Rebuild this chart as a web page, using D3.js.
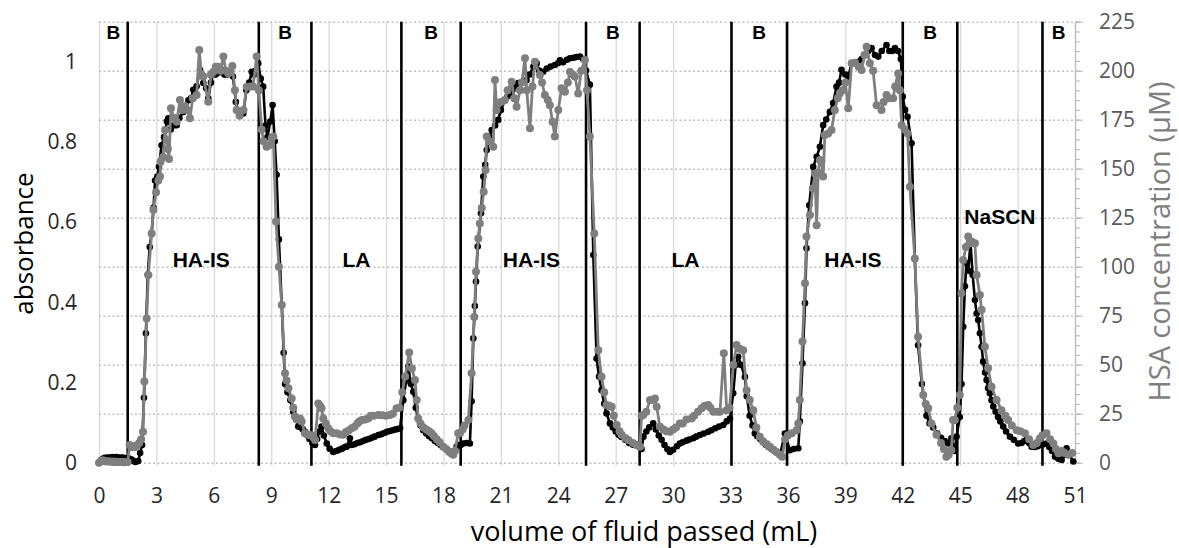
<!DOCTYPE html>
<html>
<head>
<meta charset="utf-8">
<script src="https://cdn.jsdelivr.net/npm/d3@7"></script>
<style>
  body { margin: 0; background: #fff; }
  text { font-family: "Open Sans", "Noto Sans", sans-serif; }
</style>
</head>
<body>
<svg width="1179" height="548"></svg>
<script>
// ---- data ----
const volumeTicks = d3.range(0, 52, 3);
const absorbanceTicks = [0, 0.2, 0.4, 0.6, 0.8, 1];
const concTicks = d3.range(0, 226, 25);
const concMinorTicks = d3.range(0, 226, 5);

// phase boundaries (mL) and the names of the phases between them
const boundaries = [1.5, 8.35, 11.1, 15.8, 18.9, 25.45, 28.25, 33.05, 35.95, 42.0, 44.85, 49.3];
const phases = ['B', 'HA-IS', 'B', 'LA', 'B', 'HA-IS', 'B', 'LA', 'B', 'HA-IS', 'B', 'NaSCN', 'B'];

// absorbance (left axis) [volume mL, absorbance]
const absorbance = [
  [0,0],[0.1,0.006],[0.2,0.01],[0.3,0.012],[0.4,0.012],[0.5,0.013],[0.6,0.012],[0.7,0.014],[0.8,0.013],
  [0.9,0.014],[1.0,0.013],[1.1,0.012],[1.2,0.013],[1.3,0.012],[1.4,0.011],[1.5,0.012],[1.6,0.01],
  [1.7,0.008],[1.8,0.004],[1.9,0.002],[2.05,0.004],[2.15,0.024],[2.25,0.044],[2.35,0.162],[2.45,0.323],
  [2.55,0.469],[2.65,0.538],[2.75,0.572],[2.85,0.636],[2.93,0.704],[3.05,0.714],[3.13,0.738],[3.27,0.792],
  [3.4,0.812],[3.55,0.851],[3.62,0.859],[3.75,0.831],[3.9,0.841],[4.06,0.842],[4.2,0.86],[4.41,0.875],
  [4.55,0.88],[4.67,0.904],[4.8,0.909],[4.93,0.93],[5.1,0.939],[5.28,0.98],[5.45,0.947],[5.6,0.934],
  [5.71,0.909],[5.85,0.948],[5.97,0.971],[6.1,0.968],[6.25,0.973],[6.41,0.98],[6.55,0.968],[6.7,0.968],
  [6.84,0.971],[7.0,0.963],[7.15,0.9],[7.28,0.875],[7.4,0.87],[7.54,0.871],[7.7,0.929],[7.85,0.948],
  [7.98,0.975],[8.1,0.968],[8.2,0.978],[8.32,0.996],[8.45,0.958],[8.58,0.938],[8.7,0.841],[8.8,0.812],
  [8.95,0.851],[9.07,0.892],[9.18,0.802],[9.28,0.718],[9.4,0.557],[9.55,0.393],[9.65,0.274],[9.72,0.196],
  [9.85,0.176],[10.0,0.156],[10.15,0.127],[10.3,0.108],[10.41,0.09],[10.55,0.088],[10.65,0.083],[10.77,0.077],
  [10.9,0.068],[11.0,0.059],[11.15,0.049],[11.29,0.044],[11.4,0.059],[11.5,0.078],[11.63,0.09],[11.75,0.068],
  [11.9,0.048],[12.05,0.035],[12.24,0.027],[12.4,0.029],[12.55,0.032],[12.7,0.035],[12.85,0.039],[12.94,0.04],
  [13.11,0.061],[13.2,0.044],[13.35,0.046],[13.5,0.049],[13.65,0.051],[13.8,0.054],[13.95,0.057],[14.1,0.059],
  [14.25,0.062],[14.4,0.065],[14.6,0.069],[14.75,0.071],[14.9,0.074],[15.05,0.077],[15.2,0.079],[15.35,0.081],
  [15.5,0.083],[15.6,0.084],[15.73,0.086],[15.9,0.156],[16.05,0.205],[16.16,0.24],[16.3,0.196],[16.42,0.177],
  [16.55,0.137],[16.68,0.11],[16.8,0.093],[16.94,0.081],[17.1,0.073],[17.25,0.066],[17.4,0.061],[17.55,0.054],
  [17.7,0.049],[17.85,0.044],[18.0,0.039],[18.15,0.034],[18.3,0.029],[18.45,0.024],[18.6,0.029],[18.69,0.04],
  [18.8,0.044],[18.9,0.044],[19.03,0.048],[19.2,0.049],[19.38,0.048],[19.47,0.153],[19.56,0.31],[19.64,0.391],
  [19.7,0.452],[19.79,0.539],[19.96,0.622],[20.08,0.714],[20.18,0.743],[20.26,0.78],[20.4,0.812],[20.52,0.83],
  [20.7,0.841],[20.86,0.855],[21.0,0.88],[21.21,0.904],[21.35,0.914],[21.47,0.921],[21.6,0.929],[21.75,0.939],
  [21.91,0.947],[22.1,0.948],[22.34,0.954],[22.5,0.968],[22.7,0.988],[22.87,0.996],[23.0,0.978],[23.21,0.975],
  [23.4,0.983],[23.6,0.988],[23.82,0.992],[24.0,0.997],[24.09,1.004],[24.25,0.999],[24.45,1.005],[24.61,1.009],
  [24.8,1.01],[24.95,1.012],[25.13,1.013],[25.3,1.007],[25.45,0.978],[25.65,0.943],[25.83,0.518],[26.0,0.26],
  [26.13,0.215],[26.26,0.181],[26.4,0.147],[26.52,0.123],[26.7,0.098],[26.85,0.088],[27.0,0.078],[27.15,0.07],
  [27.3,0.064],[27.5,0.057],[27.7,0.049],[27.9,0.045],[28.1,0.043],[28.25,0.039],[28.35,0.034],[28.45,0.065],
  [28.6,0.078],[28.75,0.088],[28.96,0.098],[29.1,0.083],[29.25,0.068],[29.4,0.057],[29.55,0.044],[29.7,0.034],
  [29.83,0.027],[30.0,0.032],[30.2,0.041],[30.35,0.048],[30.5,0.051],[30.7,0.055],[30.85,0.058],[31.05,0.061],
  [31.2,0.065],[31.4,0.069],[31.6,0.073],[31.83,0.077],[32.0,0.081],[32.2,0.086],[32.4,0.09],[32.62,0.094],
  [32.8,0.103],[32.97,0.11],[33.14,0.173],[33.27,0.244],[33.4,0.264],[33.55,0.244],[33.75,0.214],[33.85,0.166],
  [34.0,0.117],[34.15,0.093],[34.27,0.073],[34.4,0.066],[34.55,0.059],[34.7,0.051],[34.85,0.044],[35.0,0.039],
  [35.15,0.034],[35.3,0.029],[35.45,0.025],[35.6,0.022],[35.84,0.073],[36.1,0.031],[36.3,0.034],[36.54,0.036],
  [36.62,0.103],[36.76,0.248],[36.89,0.398],[36.97,0.535],[37.11,0.642],[37.32,0.738],[37.5,0.763],[37.67,0.788],
  [37.84,0.842],[38.0,0.856],[38.19,0.875],[38.36,0.897],[38.54,0.938],[38.67,0.948],[38.8,0.98],[39.0,0.968],
  [39.15,0.963],[39.33,0.996],[39.5,0.997],[39.68,1.0],[39.85,1.007],[40.0,1.017],[40.2,1.027],[40.37,1.034],
  [40.55,1.017],[40.72,1.013],[40.9,1.027],[41.15,1.042],[41.3,1.027],[41.45,1.027],[41.59,1.034],[41.75,1.027],
  [41.9,1.007],[42.0,0.913],[42.12,0.88],[42.25,0.863],[42.46,0.797],[42.63,0.509],[42.8,0.293],[43.0,0.196],
  [43.24,0.117],[43.4,0.098],[43.59,0.088],[43.8,0.073],[44.0,0.062],[44.2,0.054],[44.37,0.048],[44.54,0.061],
  [44.7,0.029],[44.81,0.065],[44.98,0.114],[45.07,0.196],[45.16,0.339],[45.25,0.44],[45.33,0.498],[45.42,0.479],
  [45.54,0.548],[45.65,0.469],[45.77,0.406],[45.86,0.372],[45.94,0.356],[46.03,0.323],[46.12,0.289],[46.2,0.252],
  [46.3,0.225],[46.38,0.206],[46.46,0.186],[46.55,0.173],[46.64,0.156],[46.73,0.14],[46.85,0.127],[46.98,0.114],
  [47.1,0.103],[47.25,0.09],[47.4,0.078],[47.6,0.065],[47.8,0.057],[48.03,0.048],[48.2,0.049],[48.35,0.054],
  [48.47,0.057],[48.6,0.049],[48.73,0.04],[48.9,0.039],[49.05,0.041],[49.2,0.044],[49.35,0.046],[49.51,0.048],
  [49.65,0.039],[49.8,0.029],[49.96,0.015],[50.13,0.01],[50.3,0.007],[50.45,0.02],[50.56,0.036],[50.7,0.02],
  [50.91,0.003]
];

// HSA concentration (right axis) [volume mL, µM]
const hsaConc = [
  [0,0],[0.1,0.8],[0.2,1.2],[0.3,0.8],[0.4,0.6],[0.5,0.8],[0.6,0.6],[0.7,0.4],[0.8,0.6],[0.9,0.4],
  [1.0,0.4],[1.1,0.4],[1.2,0.4],[1.3,0.2],[1.4,0.4],[1.5,0.4],[1.6,9],[1.7,8],[1.8,8.4],[1.9,8],
  [2.0,9],[2.1,10],[2.2,12],[2.3,15.8],[2.37,41.4],[2.49,73.6],[2.58,95.8],[2.75,117],[2.84,129],
  [2.98,138],[3.1,144],[3.19,146],[3.22,153.6],[3.35,156],[3.45,169.8],[3.54,164.6],[3.6,160],
  [3.66,155],[3.76,180.8],[3.9,176],[4.06,174],[4.23,185],[4.35,180],[4.5,182],[4.6,180],[4.75,175.8],
  [4.9,186],[5.1,187.6],[5.24,210.6],[5.35,198],[5.45,197],[5.71,184.2],[5.85,198],[5.97,199.4],
  [6.1,202],[6.23,202],[6.35,200],[6.5,207.2],[6.63,200],[6.76,198.6],[6.97,202.4],[7.1,190],[7.19,180],
  [7.35,177],[7.55,180],[7.72,191.8],[7.9,192],[8.05,192],[8.24,207.2],[8.35,190],[8.5,170],[8.6,164],
  [8.76,161.2],[8.9,162],[9.02,165.6],[9.11,166.4],[9.25,123],[9.4,100],[9.55,80.4],[9.72,45.6],[9.8,42],
  [9.9,38],[10.07,32.8],[10.15,28],[10.24,23.4],[10.35,22],[10.5,22.6],[10.59,21],[10.76,15],[10.9,14.4],
  [11.0,14],[11.11,14],[11.2,13],[11.29,11.6],[11.46,30.2],[11.55,29],[11.63,27.8],[11.72,22.6],[11.85,20],
  [11.98,17.6],[12.1,16],[12.25,15],[12.42,15],[12.6,14.4],[12.76,14.2],[12.9,15.6],[13.05,16.4],[13.2,17.6],
  [13.35,18.4],[13.5,20],[13.6,21],[13.73,21.8],[13.9,22],[14.07,22.6],[14.2,24],[14.35,24],[14.6,24.4],
  [14.8,24.2],[15.0,24],[15.2,24.4],[15.35,25],[15.55,27.8],[15.7,28],[15.85,36],[16.0,44],[16.21,56.2],
  [16.35,48],[16.51,42.2],[16.6,32],[16.68,22.6],[16.8,20],[16.95,18],[17.1,17],[17.25,16],[17.38,15],
  [17.5,13.6],[17.65,12],[17.8,10.4],[17.99,8.2],[18.15,7],[18.3,5.6],[18.4,4.8],[18.51,4],[18.6,6],
  [18.77,15],[18.86,15],[19.0,17],[19.1,19],[19.3,21.8],[19.47,45.6],[19.61,74.4],[19.7,97.4],[19.82,114.4],
  [19.9,122],[20.0,130],[20.1,138.2],[20.2,149.4],[20.26,166.4],[20.4,164],[20.6,161.2],[20.69,195.2],
  [20.78,180],[20.86,183.4],[21.0,184],[21.21,185],[21.35,190],[21.56,194.4],[21.7,186],[21.82,181.6],
  [22.0,190],[22.1,194],[22.26,206.4],[22.35,190],[22.52,170.6],[22.65,192],[22.78,204.6],[23.04,197.8],
  [23.15,194],[23.3,187.6],[23.45,185],[23.56,182.4],[23.7,174],[23.82,166.4],[24.0,180],[24.17,191],
  [24.35,189.2],[24.5,194],[24.61,199.4],[24.75,198],[24.87,197],[25.04,188.4],[25.2,200],[25.39,205.4],
  [25.5,190],[25.65,166.4],[25.88,117],[26.09,57.4],[26.26,43.8],[26.4,36],[26.52,29.4],[26.65,29],
  [26.79,28.6],[26.9,24],[27.05,19.2],[27.2,16],[27.31,14.2],[27.5,12.6],[27.66,11.6],[27.9,10],[28.09,9],
  [28.27,8.2],[28.35,24],[28.44,24.4],[28.6,26],[28.79,32],[28.9,32],[29.05,32.8],[29.14,28.6],[29.31,18.4],
  [29.5,17],[29.65,16],[29.83,15.8],[30.0,17],[30.15,18],[30.35,20],[30.5,20],[30.7,22],[30.97,22.6],
  [31.1,24],[31.3,26],[31.49,27.8],[31.65,29],[31.83,29.4],[31.95,28],[32.1,26],[32.3,26],[32.45,26],
  [32.65,55.8],[32.8,26.8],[32.95,28],[33.15,50],[33.32,60],[33.5,58],[33.66,57.4],[33.84,37],[34.0,32],
  [34.19,26.8],[34.35,18],[34.53,13.2],[34.7,11],[34.9,9.4],[35.06,8.2],[35.25,6.6],[35.4,5.4],[35.58,4],
  [35.7,3],[35.85,12],[36.0,14],[36.2,15],[36.45,16.6],[36.54,20],[36.62,32],[36.76,61.8],[36.89,91.6],
  [36.97,115.4],[37.15,126.4],[37.3,140],[37.41,147.6],[37.5,121.2],[37.58,148],[37.67,154.4],[37.75,154],
  [37.84,146],[37.93,167.2],[38.1,168],[38.28,169.8],[38.45,180],[38.6,186],[38.71,188.4],[38.85,190],
  [39.0,194],[39.15,180.8],[39.33,203.8],[39.5,204],[39.7,202],[39.85,200.4],[40.0,208],[40.11,212.2],
  [40.28,203.8],[40.45,200],[40.63,182.4],[40.89,180],[41.0,184],[41.15,187.6],[41.3,186],[41.5,186],
  [41.6,192],[41.76,198.6],[41.85,190],[41.94,172.2],[42.1,170],[42.25,168],[42.37,140.8],[42.63,104.2],
  [42.8,64.2],[43.07,34.6],[43.2,30],[43.33,27.8],[43.5,20],[43.76,14.2],[44.0,10],[44.15,7],[44.28,3],
  [44.4,4],[44.54,6.4],[44.63,21.8],[44.72,21.8],[44.85,28],[44.98,34.6],[45.07,86.4],[45.16,103.4],
  [45.3,110],[45.42,115.4],[45.52,112],[45.6,112.8],[45.77,112],[45.86,95.8],[46.03,85.6],[46.12,78],
  [46.29,59.2],[46.46,48.2],[46.64,38.8],[46.9,32],[47.16,26.8],[47.35,24],[47.51,21.8],[47.7,19],
  [47.95,16.6],[48.15,16],[48.38,15],[48.6,12],[48.82,9],[49.0,10],[49.16,12.4],[49.3,14],[49.51,15],
  [49.7,12],[49.87,9.8],[50.0,7],[50.13,4.8],[50.3,6],[50.45,5],[50.65,4],[50.85,5]
];

// ---- layout ----
const svg = d3.select('svg');
const margin = { left: 99, right: 104, top: 21.7, bottom: 85.3 };
const width = +svg.attr('width') - margin.left - margin.right;
const height = +svg.attr('height') - margin.top - margin.bottom;

const x = d3.scaleLinear().domain([0, 51]).range([0, width]);
const yAbs = d3.scaleLinear().domain([0, 1.1]).range([height, 0]);
const yConc = d3.scaleLinear().domain([0, 225]).range([height, 0]);

const g = svg.append('g').attr('transform', `translate(${margin.left},${margin.top})`);
const tickFont = a => a.selectAll('text').attr('font-size', 21)
  .style('font-family', '"Open Sans", "Noto Sans", sans-serif');

// vertical grid
g.append('g')
  .attr('transform', `translate(0,${height})`)
  .call(d3.axisBottom(x).tickValues(volumeTicks).tickSize(-height - 3).tickFormat(''))
  .call(a => a.select('.domain').remove())
  .call(a => a.selectAll('line').attr('stroke', '#d9d9d9').attr('stroke-width', 1.3).attr('transform', 'translate(0,3)'));

// horizontal dotted grid
g.append('g')
  .call(d3.axisLeft(yConc).tickValues(concTicks).tickSize(-width).tickFormat(''))
  .call(a => a.select('.domain').remove())
  .call(a => a.selectAll('line').attr('stroke', '#bfbfbf').attr('stroke-width', 1.5).attr('stroke-dasharray', '2,2.5'));

// bottom tick labels
g.append('g')
  .attr('transform', `translate(0,${height})`)
  .call(d3.axisBottom(x).tickValues(volumeTicks).tickSize(0).tickPadding(25))
  .call(a => a.select('.domain').remove())
  .call(tickFont)
  .call(a => a.selectAll('text').attr('fill', '#262626'));

// left tick labels
g.append('g')
  .call(d3.axisLeft(yAbs).tickValues(absorbanceTicks).tickSize(0).tickPadding(22).tickFormat(d3.format('~g')))
  .call(a => a.select('.domain').remove())
  .call(tickFont)
  .call(a => a.selectAll('text').attr('fill', '#262626'));

// right axis with minor ticks
g.append('g')
  .attr('transform', `translate(${width},0)`)
  .call(d3.axisRight(yConc).tickValues(concMinorTicks).tickSize(5).tickFormat(''))
  .call(a => a.select('.domain').attr('stroke', '#bfbfbf').attr('stroke-width', 1.3))
  .call(a => a.selectAll('line').attr('stroke', '#bfbfbf').attr('stroke-width', 1.2));

g.append('g')
  .attr('transform', `translate(${width},0)`)
  .call(d3.axisRight(yConc).tickValues(concTicks).tickSize(8).tickPadding(16))
  .call(a => a.select('.domain').remove())
  .call(a => a.selectAll('line').attr('stroke', '#bfbfbf').attr('stroke-width', 1.2))
  .call(tickFont)
  .call(a => a.selectAll('text').attr('fill', '#595959'));

// phase boundaries
g.append('g').selectAll('line').data(boundaries).join('line')
  .attr('x1', d => x(d)).attr('x2', d => x(d))
  .attr('y1', 0).attr('y2', height + 3)
  .attr('stroke', '#000').attr('stroke-width', 2.6);

// series
const drawSeries = (data, yScale, color, lw, r) => {
  const line = d3.line().x(d => x(d[0])).y(d => yScale(d[1]));
  g.append('path').datum(data)
    .attr('d', line).attr('fill', 'none')
    .attr('stroke', color).attr('stroke-width', lw).attr('stroke-linejoin', 'round');
  g.append('g').selectAll('circle').data(data).join('circle')
    .attr('cx', d => x(d[0])).attr('cy', d => yScale(d[1]))
    .attr('r', r).attr('fill', color);
};
drawSeries(absorbance, yAbs, '#000000', 2.6, 3.3);
drawSeries(hsaConc, yConc, '#7f7f7f', 2.8, 4);

// phase labels
const edges = [0, ...boundaries, 51];
g.append('g').selectAll('text').data(phases).join('text')
  .attr('x', (d, i) => x((edges[i] + edges[i + 1]) / 2) + (d === 'HA-IS' ? 8 : 0))
  .attr('y', d => d === 'B' ? 17 : d === 'NaSCN' ? 202 : 245)
  .attr('text-anchor', 'middle')
  .attr('font-size', d => d === 'B' ? 19 : 21)
  .attr('font-weight', 'bold')
  .style('font-family', '"Liberation Sans", Arial, sans-serif')
  .text(d => d);

// axis titles
svg.append('text')
  .attr('transform', `translate(33,243.5) rotate(-90)`)
  .attr('text-anchor', 'middle')
  .attr('font-size', 26).attr('fill', '#000')
  .text('absorbance');

svg.append('text')
  .attr('transform', `translate(1170,241.5) rotate(-90)`)
  .attr('text-anchor', 'middle')
  .attr('font-size', 29).attr('fill', '#7f7f7f')
  .text('HSA concentration (µM)');

svg.append('text')
  .attr('x', 644).attr('y', 541)
  .attr('text-anchor', 'middle')
  .attr('font-size', 27).attr('fill', '#000')
  .text('volume of fluid passed (mL)');
</script>
</body>
</html>
